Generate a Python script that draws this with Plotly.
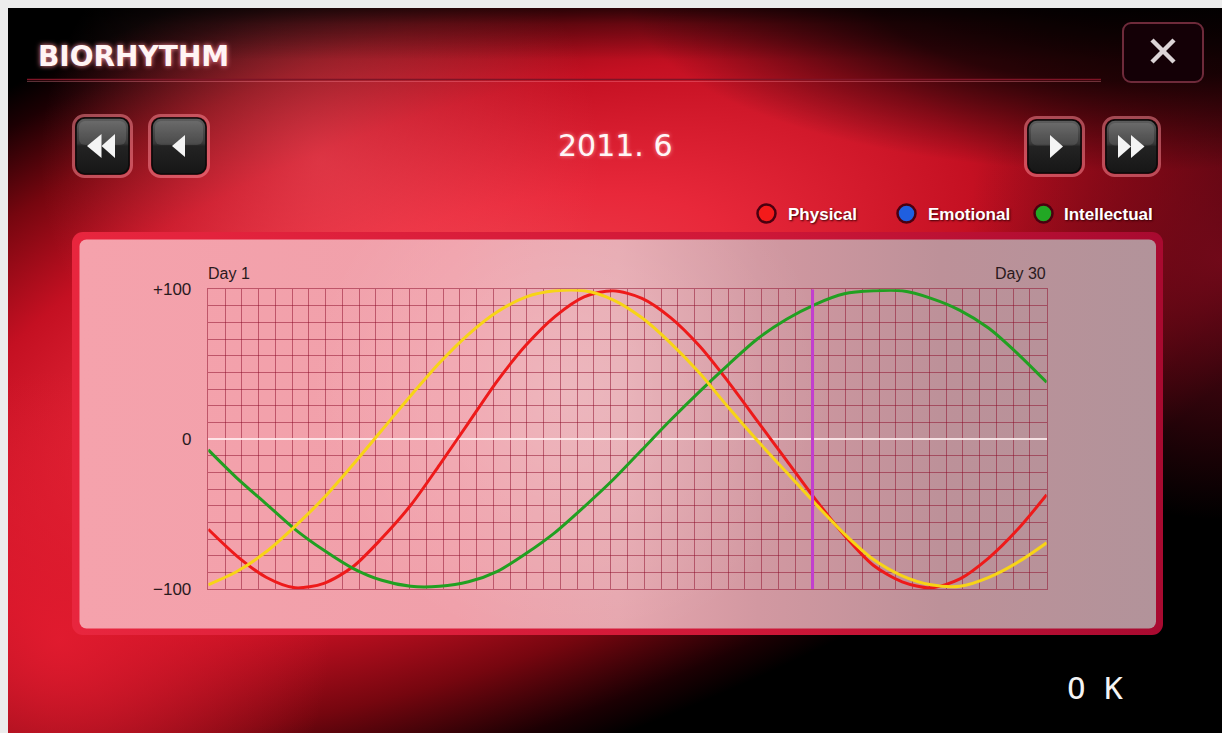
import base64
import plotly.graph_objects as go

# ---------------- data ----------------
DAYS = list(range(1, 31))
PHYSICAL = [-60, -78, -92, -99, -96, -85, -66, -44, -17, 11, 39, 63, 82, 95, 99,
            94, 81, 62, 38, 12, -14, -40, -64, -84, -95, -99, -93, -79, -60, -37]
EMOTIONAL = [-97, -88, -75, -58, -39, -17, 6, 29, 51, 70, 85, 95, 99, 99, 93,
             81, 64, 44, 21, -1, -22, -43, -63, -80, -91, -97, -98, -92, -82, -69]
INTELLECTUAL = [-7, -26, -43, -60, -74, -86, -94, -98, -98, -95, -88, -76, -62, -45, -27,
                -7, 13, 32, 50, 67, 80, 90, 97, 99, 99, 94, 86, 74, 57, 38]
TODAY = 21.9
MONTH_LABEL = "2011. 6"
TITLE = "BIORHYTHM"
Y_TICK_VALUES = [100, 0, -100]
Y_TICK_TEXT = ["+100", "0", "\u2212100"]
DAY_LABELS = ["Day 1", "Day 30"]
LEGEND_NAMES = ["Physical", "Emotional", "Intellectual"]
LEGEND_COLORS = ["#f41a1a", "#1f5fe0", "#22a824"]
LINE_COLORS = {"Physical": "#ee1a1a", "Emotional": "#f7d417", "Intellectual": "#21a021"}

# ---------------- geometry helpers (page pixels -> paper) ----------------
W, H = 1222, 733


def px(x):
    return x / W


def py(y):
    return 1 - y / H


# ---------------- decorative background (svg) ----------------
def button(x0, y0, x1, y1, tris):
    w, h = x1 - x0, y1 - y0
    s = (f'<rect x="{x0-2.5}" y="{y0-2.5}" width="{w+5}" height="{h+5}" rx="11" fill="none" '
         f'stroke="#ff8d99" stroke-opacity="0.5" stroke-width="3"/>')
    s += (f'<rect x="{x0}" y="{y0}" width="{w}" height="{h}" rx="9" fill="url(#btn)" '
          f'stroke="#0b0b0b" stroke-width="1.6"/>')
    s += (f'<rect x="{x0+3}" y="{y0+3}" width="{w-6}" height="{h/2-4}" rx="6" fill="#ffffff" '
          f'fill-opacity="0.10"/>')
    for t in tris:
        pts = " ".join(f"{a},{b}" for a, b in t)
        s += f'<polygon points="{pts}" fill="#f4f4f4"/>'
    return s


svg = f'''<svg xmlns="http://www.w3.org/2000/svg" width="{W}" height="{H}" viewBox="0 0 {W} {H}" preserveAspectRatio="none">
<defs>
<radialGradient id="bg" gradientUnits="userSpaceOnUse" cx="450" cy="350" r="1000"
  gradientTransform="translate(450 350) rotate(-20) scale(1 0.42) translate(-450 -350)">
<stop offset="0" stop-color="#f24a55"/>
<stop offset="0.3" stop-color="#e8283a"/>
<stop offset="0.55" stop-color="#c41022"/>
<stop offset="0.75" stop-color="#76060f"/>
<stop offset="0.92" stop-color="#1c0003"/>
<stop offset="1" stop-color="#000000"/>
</radialGradient>
<linearGradient id="topfade" x1="0" y1="0" x2="0" y2="1">
<stop offset="0" stop-color="#000" stop-opacity="0.85"/>
<stop offset="0.4" stop-color="#000" stop-opacity="0.35"/>
<stop offset="1" stop-color="#000" stop-opacity="0"/>
</linearGradient>
<radialGradient id="trdark" gradientUnits="userSpaceOnUse" cx="1120" cy="-10" r="330"
  gradientTransform="translate(1120 -10) scale(1.5 0.55) translate(-1120 10)">
<stop offset="0" stop-color="#000" stop-opacity="0.97"/>
<stop offset="0.5" stop-color="#000" stop-opacity="0.75"/>
<stop offset="1" stop-color="#000" stop-opacity="0"/>
</radialGradient>
<radialGradient id="glowtl" gradientUnits="userSpaceOnUse" cx="320" cy="160" r="280">
<stop offset="0" stop-color="#ff6a75" stop-opacity="0.4"/>
<stop offset="1" stop-color="#ff6a75" stop-opacity="0"/>
</radialGradient>
<radialGradient id="glowbl" gradientUnits="userSpaceOnUse" cx="60" cy="640" r="270">
<stop offset="0" stop-color="#e41c30" stop-opacity="0.9"/>
<stop offset="1" stop-color="#e41c30" stop-opacity="0"/>
</radialGradient>
<radialGradient id="glowr" gradientUnits="userSpaceOnUse" cx="1222" cy="260" r="260">
<stop offset="0" stop-color="#7a0a1c" stop-opacity="0.85"/>
<stop offset="1" stop-color="#7a0a1c" stop-opacity="0"/>
</radialGradient>
<linearGradient id="panel" x1="0" y1="0" x2="1" y2="0">
<stop offset="0" stop-color="#f5a2ac"/>
<stop offset="0.35" stop-color="#f0a0aa"/>
<stop offset="0.5" stop-color="#e6a6ae"/>
<stop offset="0.63" stop-color="#d298a1"/>
<stop offset="0.8" stop-color="#bd9199"/>
<stop offset="1" stop-color="#b2939a"/>
</linearGradient>
<radialGradient id="panelglow" gradientUnits="userSpaceOnUse" cx="570" cy="390" r="260">
<stop offset="0" stop-color="#ffffff" stop-opacity="0.2"/>
<stop offset="1" stop-color="#ffffff" stop-opacity="0"/>
</radialGradient>
<linearGradient id="border" x1="0" y1="0" x2="1" y2="0">
<stop offset="0" stop-color="#e8263e"/>
<stop offset="0.6" stop-color="#d01838"/>
<stop offset="1" stop-color="#a80a30"/>
</linearGradient>
<linearGradient id="btn" x1="0" y1="0" x2="0" y2="1">
<stop offset="0" stop-color="#5e5e5e"/>
<stop offset="0.45" stop-color="#383838"/>
<stop offset="0.5" stop-color="#232323"/>
<stop offset="1" stop-color="#161616"/>
</linearGradient>
</defs>
<rect x="0" y="0" width="{W}" height="{H}" fill="#000"/>
<rect x="0" y="0" width="{W}" height="{H}" fill="url(#bg)"/>
<rect x="0" y="0" width="{W}" height="{H}" fill="url(#glowtl)"/>
<rect x="0" y="0" width="{W}" height="{H}" fill="url(#glowbl)"/>
<rect x="0" y="0" width="{W}" height="{H}" fill="url(#glowr)"/>
<rect x="0" y="0" width="{W}" height="60" fill="url(#topfade)"/>
<rect x="0" y="0" width="{W}" height="{H}" fill="url(#trdark)"/>
<line x1="27" y1="79.5" x2="1101" y2="79.5" stroke="#7e1426" stroke-width="1.6"/>
<line x1="27" y1="81.5" x2="1101" y2="81.5" stroke="#ff8a9a" stroke-opacity="0.35" stroke-width="1"/>
<rect x="1123" y="23" width="80" height="59" rx="8" fill="#140006" stroke="#6e2a3a" stroke-width="2"/>
<line x1="1152" y1="40" x2="1174" y2="62" stroke="#dcd4d6" stroke-width="4.5"/>
<line x1="1174" y1="40" x2="1152" y2="62" stroke="#dcd4d6" stroke-width="4.5"/>
{button(76, 118, 129, 174, [[(87, 146), (101.5, 134), (101.5, 158)], [(101.5, 146), (115, 134), (115, 158)]])}
{button(152, 118, 206, 174, [[(172, 146), (185, 135), (185, 157)]])}
{button(1028, 120, 1081, 173, [[(1063, 146.5), (1050, 135), (1050, 158)]])}
{button(1106, 120, 1157, 173, [[(1131, 146.5), (1118, 135), (1118, 158)], [(1144.5, 146.5), (1131, 135), (1131, 158)]])}
<rect x="72" y="232" width="1091" height="403" rx="11" fill="url(#border)"/>
<rect x="79.5" y="239.5" width="1076.5" height="389" rx="7" fill="url(#panel)"/>
<rect x="79.5" y="239.5" width="1076.5" height="389" rx="7" fill="url(#panelglow)"/>
<rect x="0" y="0" width="8" height="{H}" fill="#ececec"/>
<rect x="0" y="0" width="{W}" height="8" fill="#ececec"/>
</svg>'''

svg_src = "data:image/svg+xml;base64," + base64.b64encode(svg.encode("utf-8")).decode("ascii")

# ---------------- figure ----------------
fig = go.Figure()
for name, vals in [("Physical", PHYSICAL), ("Intellectual", INTELLECTUAL), ("Emotional", EMOTIONAL)]:
    fig.add_trace(go.Scatter(
        x=DAYS, y=vals, name=name, mode="lines",
        line=dict(color=LINE_COLORS[name], width=3, shape="spline", smoothing=0.8),
        hoverinfo="x+y+name", showlegend=False))

GRID = "rgba(140,10,40,0.5)"
fig.update_xaxes(domain=[px(208.3), px(1046.7)], range=[1, 30], tick0=1, dtick=29 / 50,
                 showgrid=True, gridcolor=GRID, gridwidth=1, showticklabels=False, ticks="",
                 zeroline=False, showline=True, mirror=True, linecolor=GRID, linewidth=1,
                 fixedrange=True)
fig.update_yaxes(domain=[py(589.3), py(289.3)], range=[-100, 100], tick0=0, dtick=100 / 9,
                 showgrid=True, gridcolor=GRID, gridwidth=1, showticklabels=False, ticks="",
                 zeroline=True, zerolinecolor="rgba(255,238,240,0.85)", zerolinewidth=1.6,
                 showline=True, mirror=True, linecolor=GRID, linewidth=1, fixedrange=True)

# today marker
fig.add_shape(type="line", xref="x", yref="y", x0=TODAY, x1=TODAY, y0=-100, y1=100,
              line=dict(color="#c23fcf", width=3))

ann = []
TXT = "#2a1a1d"
for v, t in zip(Y_TICK_VALUES, Y_TICK_TEXT):
    ann.append(dict(xref="paper", yref="y", x=px(193), y=v, text=t, showarrow=False,
                    xanchor="right", yanchor="middle",
                    font=dict(family="Liberation Sans, Arial", size=17, color=TXT)))
ann.append(dict(xref="paper", yref="paper", x=px(206), y=py(273), text=DAY_LABELS[0],
                showarrow=False, xanchor="left", yanchor="middle",
                font=dict(family="Liberation Sans, Arial", size=16, color=TXT)))
ann.append(dict(xref="paper", yref="paper", x=px(1047.5), y=py(273), text=DAY_LABELS[1],
                showarrow=False, xanchor="right", yanchor="middle",
                font=dict(family="Liberation Sans, Arial", size=16, color=TXT)))
ann.append(dict(xref="paper", yref="paper", x=px(36), y=py(56), text=TITLE, showarrow=False,
                xanchor="left", yanchor="middle",
                font=dict(family="DejaVu Sans", size=28, color="#fff4f4", weight="bold",
                          shadow="0 0 5px #ff8c9a")))
ann.append(dict(xref="paper", yref="paper", x=px(615.5), y=py(145), text=MONTH_LABEL,
                showarrow=False, xanchor="center", yanchor="middle",
                font=dict(family="DejaVu Sans", size=30, color="#fff6f6",
                          shadow="0 0 4px rgba(255,160,170,0.9)")))
ann.append(dict(xref="paper", yref="paper", x=px(1095), y=py(688), text="O K",
                showarrow=False, xanchor="center", yanchor="middle",
                font=dict(family="DejaVu Sans Mono", size=31, color="#f4f4f4")))

# custom legend
LEG_DOTS = [766.5, 906.5, 1043.5]
LEG_TEXT = [786, 926, 1062]
for cx, tx, name, col in zip(LEG_DOTS, LEG_TEXT, LEGEND_NAMES, LEGEND_COLORS):
    r = 9
    fig.add_shape(type="circle", xref="paper", yref="paper",
                  x0=px(cx - r), x1=px(cx + r), y0=py(213.5 + r), y1=py(213.5 - r),
                  fillcolor=col, line=dict(color="#4a0010", width=2.5))
    ann.append(dict(xref="paper", yref="paper", x=px(tx), y=py(214), text=name,
                    showarrow=False, xanchor="left", yanchor="middle",
                    font=dict(family="Liberation Sans, Arial", size=17, color="#ffffff",
                              weight="bold", shadow="1px 1px 2px #3a0008")))

fig.update_layout(
    width=W, height=H, margin=dict(l=0, r=0, t=0, b=0, pad=0),
    paper_bgcolor="#000000", plot_bgcolor="rgba(0,0,0,0)",
    annotations=ann, showlegend=False,
    images=[dict(source=svg_src, xref="paper", yref="paper", x=0, y=1, sizex=1, sizey=1,
                 xanchor="left", yanchor="top", sizing="stretch", layer="below")],
)

fig.write_html("out.html", config={"displayModeBar": False}, post_script=(
    "document.body.style.margin='0';"
    "document.documentElement.style.overflow='hidden';"
    "document.body.style.overflow='hidden';"
    "document.body.style.background='#ececec';"))
